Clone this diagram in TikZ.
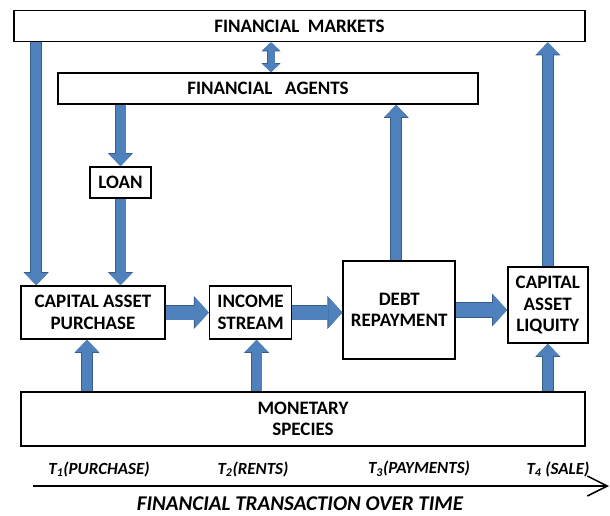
\documentclass[tikz,border=0pt]{standalone}
\usepackage{fontspec}
\setmainfont{Carlito}
\usepackage{tikz}
\usetikzlibrary{arrows.meta, positioning}
\definecolor{flowblue}{HTML}{4F81BD}
\definecolor{flowedge}{HTML}{385D8A}
\tikzset{
  box/.style={draw, line width=1.6pt, fill=white, align=center, inner sep=2pt,
    font=\fontsize{19}{21.5}\selectfont\bfseries},
  vflow/.style={draw=flowblue, line width=10pt,
    preaction={draw=flowedge, line width=11.5pt,
      -{Triangle[length=13pt,width=25pt,line width=0pt]}},
    -{Triangle[length=12pt,width=23pt,line width=0pt]}},
  hflow/.style={draw=flowblue, line width=14pt,
    preaction={draw=flowedge, line width=15.5pt,
      -{Triangle[length=15pt,width=33pt,line width=0pt]}},
    -{Triangle[length=14pt,width=31pt,line width=0pt]}},
  bflow/.style={draw=flowblue, line width=7pt,
    preaction={draw=flowedge, line width=8.5pt,
      {Triangle[length=9pt,width=19pt,line width=0pt]}-{Triangle[length=9pt,width=19pt,line width=0pt]}},
    {Triangle[length=8pt,width=17pt,line width=0pt]}-{Triangle[length=8pt,width=17pt,line width=0pt]}},
  tlabel/.style={font=\fontsize{17}{20}\selectfont\bfseries\itshape},
  timeaxis/.style={line width=1.5pt, -{Straight Barb[length=20pt,width=20pt]}}
}
\begin{document}
\begin{tikzpicture}[x=1pt, y=-1pt]
\useasboundingbox (0,0) rectangle (610,516);
\node[box, minimum width=571pt, minimum height=31pt] (markets) at (299.5,26) {FINANCIAL\ \ MARKETS};
\node[box, minimum width=420pt, minimum height=31pt] (agents) at (268,88.5) {FINANCIAL\ \ \ AGENTS};
\node[box, minimum width=61pt, minimum height=31pt] (loan) at (120.5,182.5) {LOAN};
\node[box, minimum width=144pt, minimum height=53pt] (purchase) at (93,312.5) {CAPITAL ASSET\\PURCHASE};
\node[box, minimum width=82pt, minimum height=53pt, right=43pt of purchase] (income) {INCOME\\STREAM};
\node[box, minimum width=112pt, minimum height=98pt, right=50pt of income, yshift=2.5pt] (repay) {DEBT\\REPAYMENT};
\node[box, minimum width=80pt, minimum height=76pt, right=51pt of repay, yshift=5pt] (liquid) {CAPITAL\\ASSET\\LIQUITY};
\node[box, minimum width=564pt, minimum height=54pt] (money) at (303,419) {MONETARY\\SPECIES};

\coordinate (p1) at ([xshift=16pt]purchase.north west);
\coordinate (r1) at ([xshift=-3pt]repay.north);
\coordinate (m1) at ([xshift=-6pt]purchase.south);
\coordinate (m2) at ([xshift=6pt]income.south);
\coordinate (a1) at ([xshift=3pt]agents.north);

\draw[bflow] (a1) -- (a1 |- markets.south);
\draw[vflow] (markets.south -| p1) -- (p1);
\draw[vflow] (agents.south -| loan.north) -- (loan.north);
\draw[vflow] (loan.south) -- (loan.south |- purchase.north);
\draw[vflow] (r1) -- (r1 |- agents.south);
\draw[vflow] (liquid.north) -- (liquid.north |- markets.south);

\draw[vflow] (money.north -| m1) -- (m1);
\draw[vflow] (money.north -| m2) -- (m2);
\draw[vflow] (money.north -| liquid.south) -- (liquid.south);

\draw[hflow] (purchase.east) -- (income.west);
\draw[hflow] (income.east) -- (income.east -| repay.west);
\draw[hflow] (repay.east) -- (repay.east -| liquid.west);

\node[tlabel] (t1) at (99,469) {T\textsubscript{1}(PURCHASE)};
\node[tlabel] (t2) at (253,469) {T\textsubscript{2}(RENTS)};
\node[tlabel] (t3) at (419,469) {T\textsubscript{3}(PAYMENTS)};
\node[tlabel] (t4) at (558,469) {T\textsubscript{4} (SALE)};
\coordinate (ax0) at (33,486);
\coordinate (ax1) at (609,486);
\draw[timeaxis] (ax0) -- (ax1);
\node[tlabel, inner sep=0pt, font=\fontsize{21}{24}\selectfont\bfseries\itshape] (title) at (300,504) {FINANCIAL TRANSACTION OVER TIME};
%
\end{tikzpicture}
\end{document}
